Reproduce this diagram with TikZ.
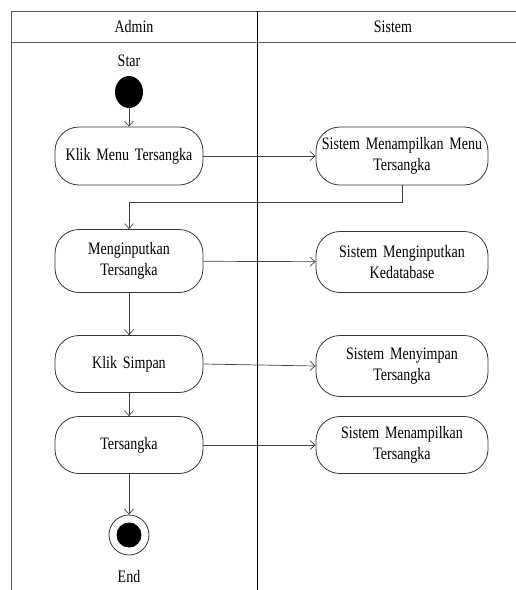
\documentclass[tikz,border=0pt]{standalone}
\usepackage{fontspec}
\setmainfont{Liberation Serif}[FakeStretch=0.8]
\usetikzlibrary{arrows.meta,shapes.geometric}
\begin{document}
\begin{tikzpicture}[x=1pt,y=-1pt,
  every node/.style={font=\fontsize{17.5}{20.5}\selectfont},
  act/.style={draw=black!80, line width=0.8pt, rounded corners=24pt, align=center,
              inner sep=2pt},
  actL/.style={act, minimum width=148pt, text width=144pt},
  actR/.style={act, minimum width=169pt, text width=168pt},
  flow/.style={draw=black!75, line width=0.7pt, -{Straight Barb[length=5pt,width=9pt]}},
  frame/.style={draw=black!65, line width=1pt}
]
\useasboundingbox (0,0) rectangle (516,590);

% swimlane frame
\draw[frame] (11,590) -- (11,11) -- (516,11);
\draw[frame] (11,42) -- (516,42);
\draw[line width=0.8pt] (257,11) -- (257,590);
\node (hA) at (134,27) {Admin};
\node (hS) at (393,27) {Sistem};

% initial state
\node (lstart) at (129,61) {Star};
\node[ellipse, fill=black, minimum width=28pt, minimum height=32pt, inner sep=0pt] (start) at (129,92) {};

% Admin activities
\node[actL, minimum height=58pt] (a1) at (129,156) {Klik Menu Tersangka};
\node[actL, minimum height=63pt] (a2) at (129,261) {Menginputkan\\Tersangka};
\node[actL, minimum height=57pt] (a3) at (129,364) {Klik Simpan};
\node[actL, minimum height=57pt] (a4) at (129,445) {Tersangka};

% Sistem activities
\node[actR, minimum height=58pt] (s1) at (402,156) {Sistem Menampilkan Menu\\Tersangka};
\node[actR, minimum height=61pt] (s2) at (402,262) {Sistem Menginputkan\\Kedatabase};
\node[actR, minimum height=61pt] (s3) at (402,366) {Sistem Menyimpan\\Tersangka};
\node[actR, minimum height=57pt] (s4) at (402,445) {Sistem Menampilkan\\Tersangka};

% final state
\node[circle, draw=black!80, line width=0.8pt, minimum size=40pt, inner sep=0pt,
      path picture={\fill (path picture bounding box.center) circle (12.5pt);}] (end) at (129,535) {};
\node (lend) at (129,577) {End};

% control flow
\draw[flow] (start) -- (a1);
\draw[flow] (a1) -- (s1);
\draw[flow] (s1.south) -- ++(0,17) -| (a2.north);
\draw[flow] (a2) -- (s2);
\draw[flow] (a2) -- (a3);
\draw[flow] (a3.east) -- (s3.west);
\draw[flow] (a3) -- (a4);
\draw[flow] (a4) -- (s4);
\draw[flow] (a4) -- (end);
\end{tikzpicture}
\end{document}
